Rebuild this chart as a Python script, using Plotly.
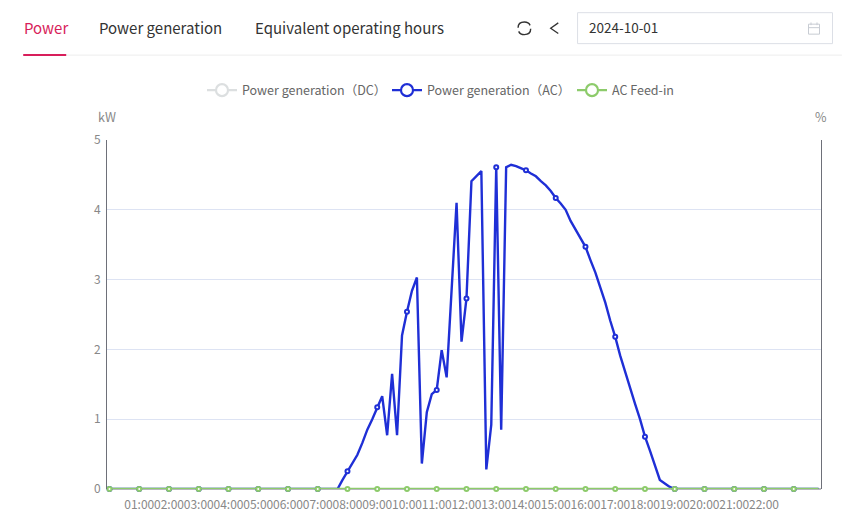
import plotly.graph_objects as go

WIDTH, HEIGHT = 842, 517
LEFT, RIGHT, TOP, BOTTOM = 106.8, 821.0, 140.0, 489.5
FONT = "Noto Sans CJK SC, Noto Sans, sans-serif"

BLUE = "#1f2fd6"
GREEN = "#8dcb6b"
GREY = "#dcdfe0"
ROSE = "#d81e5b"

# Ten-minute samples across the day
times = [f"{h:02d}:{m:02d}" for h in range(24) for m in range(0, 60, 10)]
hour_labels = [f"{h:02d}:00" for h in range(1, 23)]

ac_power = [0] * 46 + [
    0.00, 0.13, 0.255, 0.37, 0.49, 0.66, 0.85, 1.00, 1.17, 1.33, 0.77, 1.65,
    0.77, 2.20, 2.54, 2.84, 3.03, 0.365, 1.10, 1.36, 1.42, 1.99, 1.60, 2.95,
    4.10, 2.11, 2.73, 4.41, 4.48, 4.555, 0.28, 0.92, 4.61, 0.85, 4.61, 4.645,
    4.625, 4.60, 4.565, 4.52, 4.48, 4.41, 4.35, 4.27, 4.17, 4.09, 4.00, 3.84,
    3.72, 3.60, 3.47, 3.28, 3.10, 2.885, 2.67, 2.41, 2.18, 1.91, 1.67, 1.43,
    1.22, 1.00, 0.75, 0.55, 0.33, 0.13, 0.08, 0.03,
]
ac_power += [0] * (len(times) - len(ac_power))
feed_in = [0] * len(times)
dc_power = []

tabs = [("Power", 21.5, ROSE), ("Power generation", 97, "#333333"), ("Equivalent operating hours", 253, "#333333")]
picked_date = "2024-10-01"


def px(x):
    return (x - LEFT) / (RIGHT - LEFT)


def py(y):
    return (BOTTOM - y) / (BOTTOM - TOP)


def path(points):
    return "M" + "L".join(f"{px(x):.5f},{py(y):.5f}" for x, y in points)


def page_text(text, x, y, size, color, anchor="left"):
    return dict(text=text, x=px(x), y=py(y), xref="paper", yref="paper", showarrow=False,
                xanchor=anchor, yanchor="middle", font=dict(size=size, color=color, family=FONT))


def page_line(points, color, width=1.0, layer="above"):
    return dict(type="path", path=path(points), xref="paper", yref="paper", layer=layer,
                line=dict(color=color, width=width))


def page_curve(d, color, width=1.2):
    return dict(type="path", path=d, xref="paper", yref="paper", layer="above",
                line=dict(color=color, width=width))


fig = go.Figure()


def add_series(name, values, color):
    # Continuous line, hourly markers, and a larger key for the legend
    fig.add_trace(go.Scatter(x=times, y=values, mode="lines", showlegend=False, cliponaxis=False,
                             line=dict(color=color, width=2.4), hoverinfo="skip"))
    fig.add_trace(go.Scatter(x=times[::6], y=values[::6], mode="markers", showlegend=False, cliponaxis=False,
                             marker=dict(symbol="circle", size=4, color="white", line=dict(color=color, width=2))))
    fig.add_trace(go.Scatter(x=[None], y=[None], mode="lines+markers", name=name,
                             line=dict(color=color, width=2.2),
                             marker=dict(symbol="circle", size=12, color="white", line=dict(color=color, width=2.2))))


fig.add_trace(go.Scatter(x=[None], y=dc_power or [None], mode="lines+markers", name="Power generation（DC）",
                         line=dict(color=GREY, width=2.2),
                         marker=dict(symbol="circle", size=12, color="white", line=dict(color=GREY, width=2.2))))
add_series("Power generation（AC）", ac_power, BLUE)
add_series("AC Feed-in", feed_in, GREEN)

annotations = [page_text(t, x, 27, 15, c) for t, x, c in tabs]
annotations += [
    page_text(picked_date, 587, 27, 13.5, "#333333"),
    page_text("kW", 107, 116.5, 12.5, "#888888", "center"),
    page_text("%", 821, 116.5, 12.5, "#888888", "center"),
]

# Refresh glyph built from two curved strokes with gaps at the sides
rx, ry, r = 524.3, 28.2, 6.3
refresh_a = (f"M{px(rx-r):.5f},{py(ry-0.5):.5f}Q{px(rx-r):.5f},{py(ry-r):.5f} {px(rx):.5f},{py(ry-r):.5f}"
             f"Q{px(rx+r-2):.5f},{py(ry-r):.5f} {px(rx+r-0.6):.5f},{py(ry-3):.5f}")
refresh_b = (f"M{px(rx+r):.5f},{py(ry+0.5):.5f}Q{px(rx+r):.5f},{py(ry+r):.5f} {px(rx):.5f},{py(ry+r):.5f}"
             f"Q{px(rx-r+2):.5f},{py(ry+r):.5f} {px(rx-r+0.6):.5f},{py(ry+3):.5f}")

shapes = [
    page_line([(23, 55), (842, 55)], "#eeeeee", 1),
    page_line([(23, 55), (66, 55)], ROSE, 2),
    page_line([(LEFT, BOTTOM), (RIGHT, BOTTOM)], "#6e7079", 1, layer="below"),
    dict(type="rect", x0=px(577.5), x1=px(832.5), y0=py(43.5), y1=py(12.5), xref="paper", yref="paper",
         layer="above", line=dict(color="#dcdfe6", width=1)),
    page_line([(558.2, 22.7), (550.6, 28), (558.2, 33.4)], "#333333", 1.3),
    page_curve(refresh_a, "#333333", 1.4),
    page_curve(refresh_b, "#333333", 1.4),
    page_line([(808.5, 24), (819.5, 24), (819.5, 34), (808.5, 34), (808.5, 24)], "#c8ccd3", 1),
    page_line([(808.5, 27.5), (819.5, 27.5)], "#c8ccd3", 1),
    page_line([(811, 22.3), (811, 25)], "#c8ccd3", 1),
    page_line([(817, 22.3), (817, 25)], "#c8ccd3", 1),
]

fig.update_layout(
    width=WIDTH, height=HEIGHT,
    margin=dict(l=LEFT, r=WIDTH - RIGHT, t=TOP, b=HEIGHT - BOTTOM, pad=0),
    paper_bgcolor="white", plot_bgcolor="white",
    font=dict(family=FONT, size=12, color="#888888"),
    showlegend=True,
    legend=dict(orientation="h", xref="container", yref="container",
                x=202 / WIDTH, y=1 - 90.5 / HEIGHT, xanchor="left", yanchor="middle",
                entrywidth=140, entrywidthmode="pixels", itemwidth=30,
                font=dict(size=12.5, color="#666666", family=FONT), bgcolor="rgba(0,0,0,0)"),
    annotations=annotations,
    shapes=shapes,
    xaxis=dict(type="category", categoryorder="array", categoryarray=times,
               range=[-0.5, len(times) - 0.5], tickmode="array", tickvals=hour_labels, ticktext=hour_labels,
               showgrid=False, zeroline=False, showline=False, automargin=False,
               ticks="outside", ticklen=5, tickcolor="rgba(0,0,0,0)",
               tickfont=dict(size=12, color="#888888"), tickangle=0, fixedrange=True),
    yaxis=dict(range=[0, 5], tickmode="array", tickvals=[0, 1, 2, 3, 4, 5],
               gridcolor="#dde3f3", gridwidth=1, zeroline=False, showline=True, mirror=True,
               linecolor="#6e7079", linewidth=1, ticks="", ticklabelstandoff=3,
               tickfont=dict(size=12, color="#888888"), fixedrange=True),
)

fig.write_html("out.html", config={"displayModeBar": False})
